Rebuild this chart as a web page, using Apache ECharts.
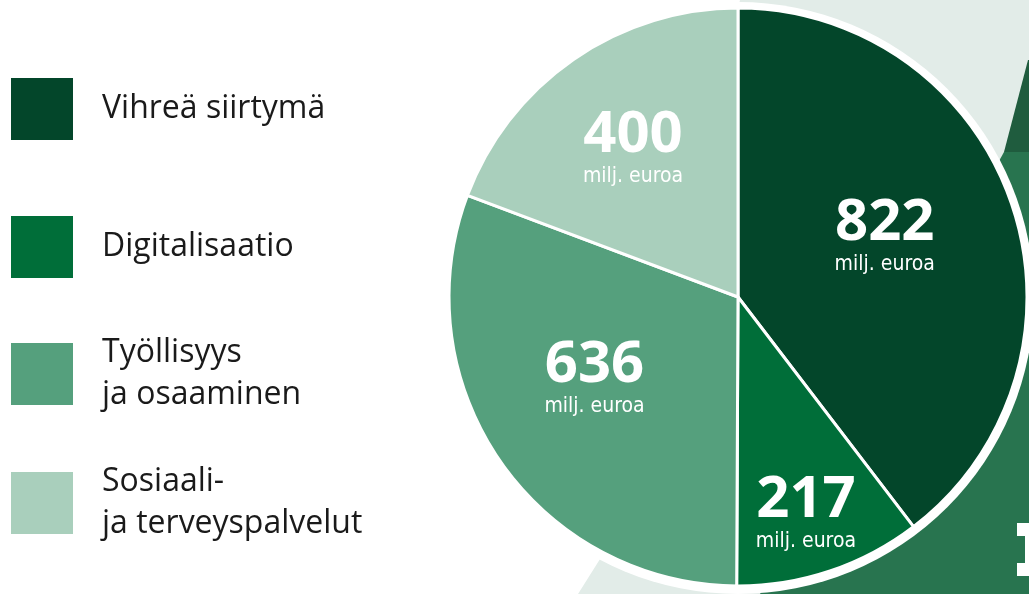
<!DOCTYPE html>
<html>
<head>
<meta charset="utf-8">
<script src="https://cdn.jsdelivr.net/npm/echarts@6/dist/echarts.min.js"></script>
<style>
  html, body { margin: 0; padding: 0; background: #fff; }
  #main { width: 1029px; height: 594px; }
</style>
</head>
<body>
<div id="main"></div>
<script>
// data
const categories = ['Vihreä siirtymä', 'Digitalisaatio', 'Työllisyys ja osaaminen', 'Sosiaali- ja terveyspalvelut']
const values = [822, 217, 636, 400]
const legendLabels = ['Vihreä siirtymä', 'Digitalisaatio', 'Työllisyys\nja osaaminen', 'Sosiaali-\nja terveyspalvelut']
const unitText = 'milj. euroa'

// styling
const colors = ['#03462a', '#006e39', '#55a07d', '#a9cfbc']
const legendCenters = [109, 247, 374, 503]
const labelShift = [[7, -13], [21, 77], [-22, -2], [-21, -27]]

var myChart = echarts.init(document.getElementById('main'))

let legends = categories.map((name, i) => {
    let lines = legendLabels[i].split('\n').length
    let half = Math.max(31, lines * 21)
    return {
        data: [name],
        orient: 'vertical',
        left: 11,
        top: legendCenters[i] - half,
        padding: 0,
        itemWidth: 62,
        itemHeight: 62,
        icon: 'rect',
        selectedMode: false,
        itemStyle: { borderWidth: 0 },
        formatter: () => legendLabels[i],
        textStyle: {
            fontFamily: 'Open Sans',
            fontSize: 32,
            lineHeight: 42,
            color: '#1a1a1a',
            padding: [0, 0, 0, 24]
        }
    }
})

let option = {
    animation: false,
    color: colors,
    legend: legends,
    graphic: [
        // background shapes behind the pie
        { type: 'polygon', z: 0, shape: { points: [[740, 0], [1029, 0], [1029, 594], [578, 594], [612, 540]] }, style: { fill: '#e2ece8' } },
        { type: 'polygon', z: 0, shape: { points: [[1004, 152], [1029, 152], [1029, 594], [760, 594]] }, style: { fill: '#28744f' } },
        { type: 'polygon', z: 0, shape: { points: [[1028, 60], [1029, 60], [1029, 152], [1004, 152]] }, style: { fill: '#1f5c3e' } },
        { type: 'circle', z: 1, shape: { cx: 738, cy: 298, r: 296 }, style: { fill: '#fff' } },
        { type: 'rect', z: 1, shape: { x: 1017, y: 523, width: 12, height: 13 }, style: { fill: '#fff' } },
        { type: 'rect', z: 1, shape: { x: 1025, y: 536, width: 4, height: 28 }, style: { fill: '#fff' } },
        { type: 'rect', z: 1, shape: { x: 1017, y: 563, width: 12, height: 13 }, style: { fill: '#fff' } }
    ],
    series: [
        {
            type: 'pie',
            z: 2,
            center: [738, 297],
            radius: [0, 289],
            startAngle: 90,
            clockwise: true,
            silent: true,
            itemStyle: {
                borderColor: '#fff',
                borderWidth: 3
            },
            label: {
                show: true,
                position: 'inside',
                formatter: p => '{v|' + p.value + '}\n{u|' + unitText + '}',
                rich: {
                    v: {
                        fontFamily: 'Open Sans',
                        fontWeight: 'bold',
                        fontSize: 58,
                        lineHeight: 56,
                        color: '#fff',
                        align: 'center'
                    },
                    u: {
                        fontFamily: 'DejaVu Sans Condensed, sans-serif',
                        fontSize: 21,
                        lineHeight: 26,
                        color: '#fff',
                        align: 'center'
                    }
                }
            },
            labelLine: { show: false },
            labelLayout: function (params) {
                let s = labelShift[params.dataIndex]
                return { dx: s[0], dy: s[1] }
            },
            data: categories.map((name, i) => ({ name: name, value: values[i] }))
        }
    ]
}

option && myChart.setOption(option)
</script>
</body>
</html>
